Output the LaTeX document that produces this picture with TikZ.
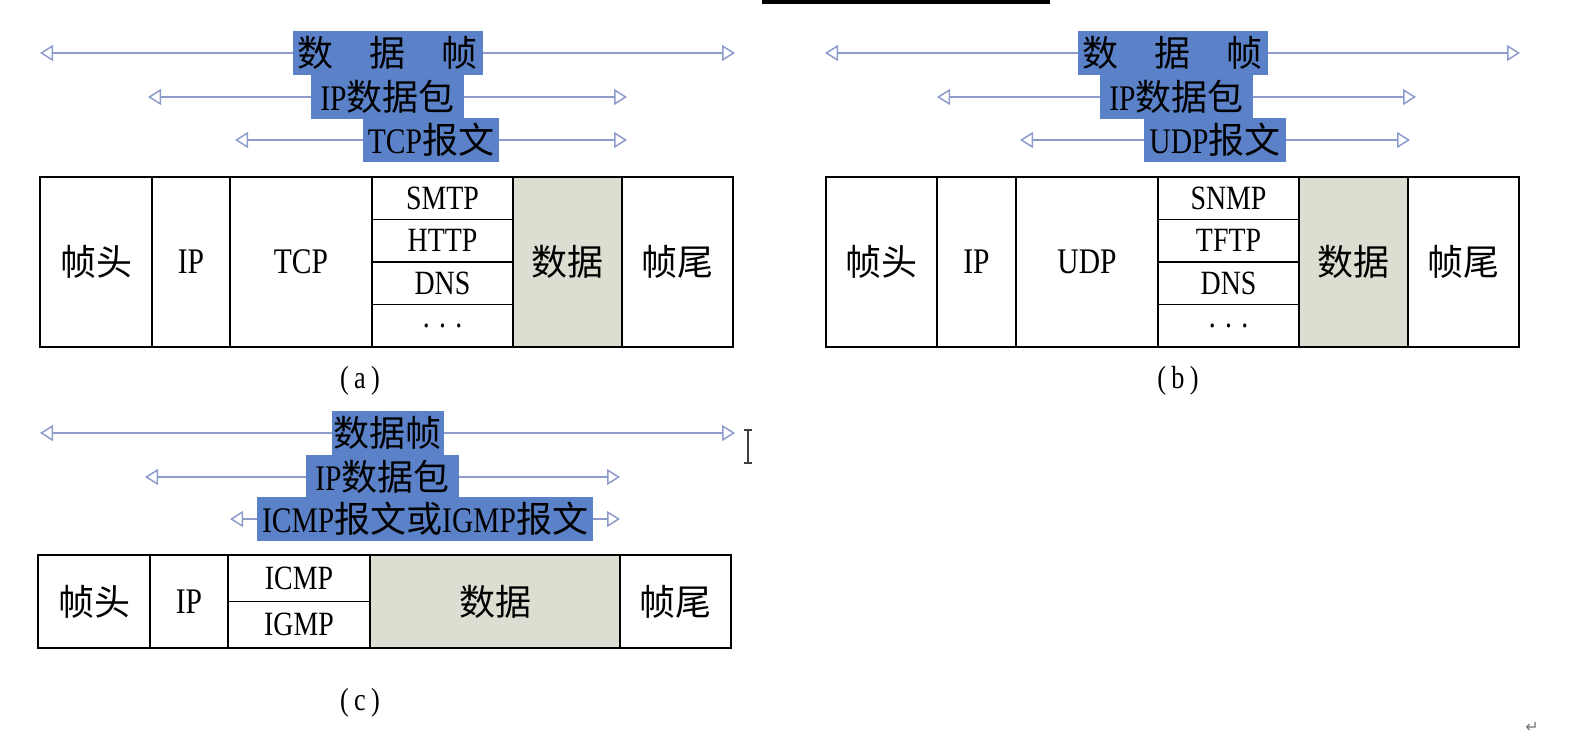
\documentclass[tikz,border=0pt]{standalone}
\usepackage{fontspec}
\setmainfont{Liberation Serif}[FakeStretch=0.82]
\newfontfamily\cjk{Noto Sans CJK SC}
\newfontfamily\symf{DejaVu Sans}
\usetikzlibrary{arrows.meta,positioning}
\definecolor{spanblue}{HTML}{8E9CCB}
\definecolor{markblue}{HTML}{5B82C8}
\definecolor{datagray}{HTML}{DDDED1}
\tikzset{
    every node/.style={font=\fontsize{36}{40}\selectfont, inner sep=0pt, outer sep=0pt},
    cell/.style={draw=black, line width=1.6pt, minimum height=170pt},
    cellc/.style={cell, minimum height=93pt},
    sub/.style={draw=black, line width=1.6pt, minimum width=141pt, minimum height=42.5pt,
      font=\fontsize{34}{36}\selectfont},
    subc/.style={sub, minimum width=142pt, minimum height=46.5pt},
    data/.style={fill=datagray},
    tag/.style={fill=markblue, inner xsep=5pt, minimum height=44pt},
    span/.style={draw=spanblue, line width=1.8pt,
      {Triangle[open, length=13pt, width=16pt, line width=1.5pt]}-{Triangle[open, length=13pt, width=16pt, line width=1.5pt]}},
    caption/.style={font=\fontsize{32}{34}\selectfont}
}
\newcommand{\zh}[1]{{\cjk #1}}

\begin{document}
\begin{tikzpicture}[x=1pt, y=-1pt]
    \useasboundingbox (0,0) rectangle (1570,742);
    \fill[black] (762,0) rectangle (1050,4);

    % (a) TCP
    \coordinate (aL1) at (40,53);   \coordinate (aR1) at (735,53);
    \coordinate (aL2) at (148,97);  \coordinate (aR2) at (627,97);
    \coordinate (aL3) at (235,140); \coordinate (aR3) at (627,140);
    \draw[span] (aL1) -- node[tag] (aFrame) {\zh{数\hspace{1em}据\hspace{1em}帧}} (aR1);
    \draw[span] (aL2) -- node[tag, inner xsep=9pt] (aPacket) {IP\zh{数据包}} (aR2);
    \draw[span] (aL3) -- node[tag] (aSeg) {TCP\zh{报文}} (aR3);

    \node[cell, minimum width=112pt, anchor=north west] (aHead) at (40,177) {\zh{帧头}};
    \node[cell, minimum width=78pt, right=0pt of aHead] (aIp) {IP};
    \node[cell, minimum width=142pt, right=0pt of aIp] (aTcp) {TCP};
    \node[sub, anchor=north west] (aSmtp) at (aTcp.north east) {SMTP};
    \node[sub, below=0pt of aSmtp] (aHttp) {HTTP};
    \node[sub, below=0pt of aHttp] (aDns) {DNS};
    \node[sub, below=0pt of aDns] (aMore) {. . .};
    \node[cell, data, minimum width=109pt, anchor=north west] (aData) at (aSmtp.north east) {\zh{数据}};
    \node[cell, minimum width=111pt, right=0pt of aData] (aTail) {\zh{帧尾}};
    \node[caption] (aCap) at (360,381) {(\,a\,)};

    % (b) UDP
    \coordinate (bL1) at (825,53);   \coordinate (bR1) at (1520,53);
    \coordinate (bL2) at (937,97);   \coordinate (bR2) at (1416,97);
    \coordinate (bL3) at (1020,140); \coordinate (bR3) at (1410,140);
    \draw[span] (bL1) -- node[tag] (bFrame) {\zh{数\hspace{1em}据\hspace{1em}帧}} (bR1);
    \draw[span] (bL2) -- node[tag, inner xsep=9pt] (bPacket) {IP\zh{数据包}} (bR2);
    \draw[span] (bL3) -- node[tag] (bSeg) {UDP\zh{报文}} (bR3);

    \node[cell, minimum width=111pt, anchor=north west] (bHead) at (826,177) {\zh{帧头}};
    \node[cell, minimum width=79pt, right=0pt of bHead] (bIp) {IP};
    \node[cell, minimum width=142pt, right=0pt of bIp] (bUdp) {UDP};
    \node[sub, anchor=north west] (bSnmp) at (bUdp.north east) {SNMP};
    \node[sub, below=0pt of bSnmp] (bTftp) {TFTP};
    \node[sub, below=0pt of bTftp] (bDns) {DNS};
    \node[sub, below=0pt of bDns] (bMore) {. . .};
    \node[cell, data, minimum width=109pt, anchor=north west] (bData) at (bSnmp.north east) {\zh{数据}};
    \node[cell, minimum width=111pt, right=0pt of bData] (bTail) {\zh{帧尾}};
    \node[caption] (bCap) at (1178,381) {(\,b\,)};

    % (c) ICMP / IGMP
    \coordinate (cL1) at (40,433);  \coordinate (cR1) at (735,433);
    \coordinate (cL2) at (145,477); \coordinate (cR2) at (620,477);
    \coordinate (cL3) at (230,519); \coordinate (cR3) at (620,519);
    \draw[span] (cL1) -- node[tag, inner xsep=2pt] (cFrame) {\zh{数据帧}} (cR1);
    \draw[span] (cL2) -- node[tag, inner xsep=9pt] (cPacket) {IP\zh{数据包}} (cR2);
    \draw[span] (cL3) -- node[tag] (cMsg) {ICMP\zh{报文或}IGMP\zh{报文}} (cR3);

    \node[cellc, minimum width=112pt, anchor=north west] (cHead) at (38,555) {\zh{帧头}};
    \node[cellc, minimum width=78pt, right=0pt of cHead] (cIp) {IP};
    \node[subc, anchor=north west] (cIcmp) at (cIp.north east) {ICMP};
    \node[subc, below=0pt of cIcmp] (cIgmp) {IGMP};
    \node[cellc, data, minimum width=250pt, anchor=north west] (cData) at (cIcmp.north east) {\zh{数据}};
    \node[cellc, minimum width=111pt, right=0pt of cData] (cTail) {\zh{帧尾}};
    \node[caption] (cCap) at (360,703) {(\,c\,)};

    % text cursor and paragraph mark
    \draw[line width=1.8pt, black!75] (744,430) -- (752,430) (748,430) -- (748,463) (744,463) -- (752,463);
    \node[text=black!55, font=\symf\fontsize{16}{16}\selectfont] (ret) at (1532,727) {↵};
\end{tikzpicture}
\end{document}
